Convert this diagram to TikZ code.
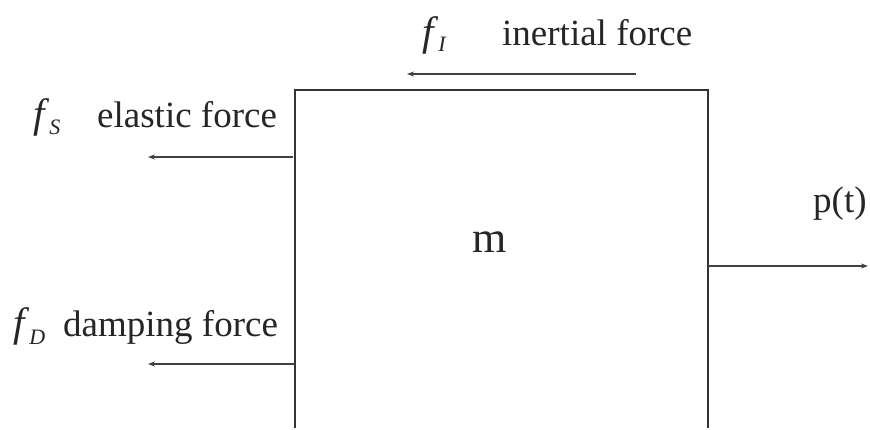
\documentclass[tikz,border=0pt]{standalone}
\usepackage{fontspec}
\setmainfont{Liberation Serif}
\usetikzlibrary{arrows.meta}
\begin{document}
\begin{tikzpicture}[x=1pt,y=-1pt,
  lbl/.style={anchor=base west,inner sep=0pt,text=black!85,font=\fontsize{37}{44}\selectfont},
  frame/.style={draw=black!80,line width=1.8pt},
  force/.style={draw=black!75,line width=1.9pt,-{Stealth[length=7pt,width=5pt]}}]
\useasboundingbox (0,0) rectangle (870,430);
% box (open bottom)
\coordinate (bl) at (295,428);
\coordinate (tl) at (295,90);
\coordinate (tr) at (708,90);
\coordinate (br) at (708,428);
\draw[frame] (bl) -- (tl) -- (tr) -- (br);
% mass label
\node[lbl,anchor=base,font=\fontsize{44}{50}\selectfont] (m) at (490,253) {m};
% inertial force
\node[lbl] (fI) at (422,46) {\fontsize{41}{44}\selectfont\textit{f}\raisebox{-6pt}{\fontsize{22}{24}\selectfont\textit{I}}};
\node[lbl] (tI) at (502,46) {inertial force};
\coordinate (iS) at (636,74);
\coordinate (iE) at (407,74);
\draw[force] (iS) -- (iE);
% elastic force
\node[lbl] (fS) at (33,128) {\fontsize{41}{44}\selectfont\textit{f}\raisebox{-7pt}{\fontsize{22}{24}\selectfont\textit{S}}};
\node[lbl] (tS) at (97,128) {elastic force};
\coordinate (sS) at (293,157);
\coordinate (sE) at (148,157);
\draw[force] (sS) -- (sE);
% damping force
\node[lbl] (fD) at (13,337) {\fontsize{41}{44}\selectfont\textit{f}\raisebox{-7pt}{\fontsize{22}{24}\selectfont\textit{D}}};
\node[lbl] (tD) at (63,337) {damping force};
\coordinate (dS) at (295,364);
\coordinate (dE) at (148,364);
\draw[force] (dS) -- (dE);
% external load
\node[lbl] (p) at (813,213) {p(t)};
\coordinate (pS) at (708,266);
\coordinate (pE) at (868,266);
\draw[force] (pS) -- (pE);
\end{tikzpicture}
\end{document}
